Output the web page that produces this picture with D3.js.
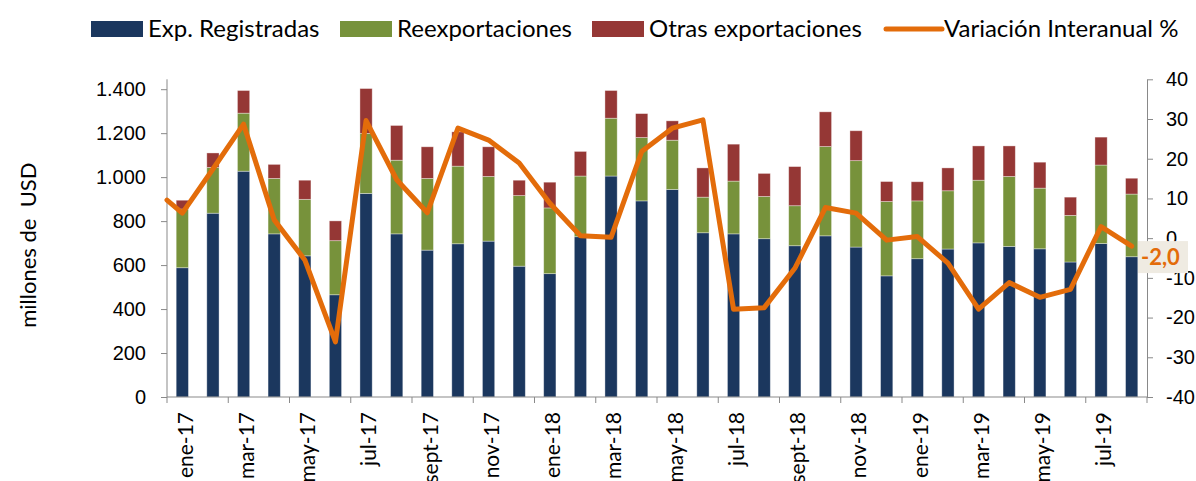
<!DOCTYPE html>
<html>
<head>
<meta charset="utf-8">
<script src="https://cdn.jsdelivr.net/npm/d3@7"></script>
<style>
  body { margin: 0; background: #fff; }
  svg { font-family: Lato, 'Open Sans', sans-serif; }
  .axis path, .axis line { stroke: #898989; }
</style>
</head>
<body>
<div id="chart"></div>
<script>
// categories: ene-17 .. ago-19
const months = [
  'ene-17', 'feb-17', 'mar-17', 'abr-17', 'may-17', 'jun-17', 'jul-17', 'ago-17', 'sept-17', 'oct-17', 'nov-17', 'dic-17',
  'ene-18', 'feb-18', 'mar-18', 'abr-18', 'may-18', 'jun-18', 'jul-18', 'ago-18', 'sept-18', 'oct-18', 'nov-18', 'dic-18',
  'ene-19', 'feb-19', 'mar-19', 'abr-19', 'may-19', 'jun-19', 'jul-19', 'ago-19',
];

// millones de USD
const expRegistradas = [
  588, 836, 1027, 742, 642, 465, 926, 742, 668, 697, 709, 595,
  561, 729, 1005, 892, 944, 747, 742, 720, 688, 733, 682, 551,
  629, 673, 701, 685, 674, 614, 698, 638,
];
const reexportaciones = [
  267, 208, 264, 252, 257, 246, 273, 335, 326, 353, 294, 321,
  299, 276, 263, 288, 224, 162, 240, 192, 182, 406, 393, 338,
  263, 265, 285, 318, 276, 212, 357, 285,
];
const otrasExportaciones = [
  40, 66, 103, 64, 87, 90, 204, 158, 144, 156, 135, 70,
  117, 112, 126, 109, 88, 133, 168, 105, 178, 158, 136, 91,
  87, 104, 156, 139, 118, 83, 127, 72,
];

// variacion interanual %, right axis
const variacionStart = 9.6; // value where the line enters at the left edge
const variacion = [
  6.3, 17.4, 28.7, 4.6, -5.5, -26.1, 29.6, 14.7, 6.4, 27.7, 24.7, 18.9,
  8.8, 0.6, 0.2, 21.8, 27.7, 29.8, -17.9, -17.5, -7.6, 7.7, 6.3, -0.5,
  0.4, -6.3, -17.9, -11.2, -14.9, -12.9, 2.9, -2.0,
];

const leftTicks = [0, 200, 400, 600, 800, 1000, 1200, 1400];
const rightTicks = [-40, -30, -20, -10, 0, 10, 20, 30, 40];

const seriesNames = ['Exp. Registradas', 'Reexportaciones', 'Otras exportaciones'];
const seriesKeys = ['reg', 'reex', 'otras'];
const lineName = 'Variación Interanual %';
const colors = ['#1b375e', '#77923b', '#953735'];
const lineColor = '#e36c0a';

const width = 1196;
const height = 481;
const margin = { top: 79.3, right: 49, bottom: 84, left: 167 };

const locale = d3.formatLocale({ decimal: ',', thousands: '.', grouping: [3], currency: ['', ''], minus: '-' });
const fmtLeft = locale.format(',.0f');
const fmtRight = locale.format('.0f');
const fmtLabel = locale.format('.1f');

const svg = d3
  .select('#chart')
  .append('svg')
  .attr('width', width)
  .attr('height', height);

const x = d3
  .scaleBand()
  .domain(months)
  .range([margin.left, width - margin.right])
  .paddingInner(0.6)
  .paddingOuter(0.3);

const y = d3
  .scaleLinear()
  .domain([0, 1445])
  .range([height - margin.bottom, margin.top]);

const y2 = d3
  .scaleLinear()
  .domain([-40, 40])
  .range([height - margin.bottom, margin.top]);

// stack the bars
const table = months.map((m, i) => ({
  month: m,
  reg: expRegistradas[i],
  reex: reexportaciones[i],
  otras: otrasExportaciones[i],
}));
const stacked = d3.stack().keys(seriesKeys)(table);

svg
  .append('g')
  .selectAll('g')
  .data(stacked)
  .enter()
  .append('g')
  .attr('fill', (d, i) => colors[i])
  .selectAll('rect')
  .data((d) => d)
  .enter()
  .append('rect')
  .attr('x', (d) => x(d.data.month))
  .attr('width', x.bandwidth())
  .attr('y', (d) => y(d[1]))
  .attr('height', (d) => y(d[0]) - y(d[1]))
  .attr('stroke', 'rgba(255,255,255,0.45)')
  .attr('stroke-width', 0.8);

// left axis
const leftAxis = svg
  .append('g')
  .attr('class', 'axis')
  .attr('transform', `translate(${margin.left},0)`)
  .call(d3.axisLeft(y).tickValues(leftTicks).tickFormat(fmtLeft).tickSize(6).tickSizeOuter(0).tickPadding(15));
leftAxis.select('.domain').attr('d', `M0,${y.range()[0]}V${y.range()[1]}`);
leftAxis.selectAll('text').attr('font-size', 20).attr('fill', '#000');

// right axis
const rightAxis = svg
  .append('g')
  .attr('class', 'axis')
  .attr('transform', `translate(${width - margin.right},0)`)
  .call(d3.axisRight(y2).tickValues(rightTicks).tickFormat(fmtRight).tickSize(6).tickSizeOuter(0).tickPadding(13));
rightAxis.selectAll('text').attr('font-size', 20).attr('fill', '#000');

// bottom axis: labels every other month, ticks at every second band boundary
const bottom = svg
  .append('g')
  .attr('class', 'axis')
  .attr('transform', `translate(0,${y.range()[0]})`);
bottom
  .append('line')
  .attr('x1', x.range()[0])
  .attr('x2', x.range()[1])
  .attr('stroke', '#898989');
bottom
  .selectAll('.tick')
  .data(d3.range(0, months.length + 1, 2))
  .enter()
  .append('line')
  .attr('class', 'tick')
  .attr('x1', (i) => x.range()[0] + i * x.step())
  .attr('x2', (i) => x.range()[0] + i * x.step())
  .attr('y1', 0)
  .attr('y2', 6);
bottom
  .selectAll('.xlabel')
  .data(months.filter((d, i) => i % 2 === 0))
  .enter()
  .append('text')
  .attr('class', 'xlabel')
  .attr('transform', (d) => `translate(${x(d) + x.bandwidth() / 2 + 3},15) rotate(-90)`)
  .attr('text-anchor', 'end')
  .attr('dy', '0.35em')
  .attr('font-size', 21)
  .text((d) => d);

// line series
const linePts = [[x.range()[0], y2(variacionStart)]].concat(
  months.map((m, i) => [x(m) + x.bandwidth() / 2, y2(variacion[i])])
);
svg
  .append('path')
  .datum(linePts)
  .attr('fill', 'none')
  .attr('stroke', lineColor)
  .attr('stroke-width', 5)
  .attr('stroke-linejoin', 'round')
  .attr('stroke-linecap', 'round')
  .attr('d', d3.line());

// label for the last value, sits just below the point
const lastI = months.length - 1;
const lab = svg.append('g').attr('transform', `translate(${x.range()[1] - 9},${y2(variacion[lastI]) + 11})`);
lab
  .append('rect')
  .attr('x', 0)
  .attr('y', -16)
  .attr('width', 50)
  .attr('height', 32)
  .attr('fill', '#efebe2');
lab
  .append('text')
  .attr('x', 3)
  .attr('dy', '0.35em')
  .attr('font-size', 22)
  .attr('font-weight', 'bold')
  .attr('fill', lineColor)
  .text(fmtLabel(variacion[lastI]));

// y title
svg
  .append('text')
  .attr('transform', `translate(28,${(y.range()[0] + y.range()[1]) / 2 + 7}) rotate(-90)`)
  .attr('text-anchor', 'middle')
  .attr('dy', '0.35em')
  .attr('font-size', 22)
  .style('white-space', 'pre')
  .text('millones de  USD');

// legend
const legendItems = [
  { name: seriesNames[0], color: colors[0], x: 91, type: 'rect' },
  { name: seriesNames[1], color: colors[1], x: 340, type: 'rect' },
  { name: seriesNames[2], color: colors[2], x: 592, type: 'rect' },
  { name: lineName, color: lineColor, x: 886, type: 'line' },
];
const legend = svg.append('g').attr('transform', 'translate(0,29)');
legendItems.forEach((d) => {
  if (d.type === 'rect') {
    legend.append('rect').attr('x', d.x).attr('y', -8).attr('width', 52).attr('height', 16).attr('fill', d.color);
  } else {
    legend
      .append('line')
      .attr('x1', d.x)
      .attr('x2', d.x + 56)
      .attr('stroke', d.color)
      .attr('stroke-width', 5)
      .attr('stroke-linecap', 'round');
  }
  legend
    .append('text')
    .attr('x', d.x + (d.type === 'rect' ? 57 : 58))
    .attr('dy', '0.35em')
    .attr('font-size', 24)
    .text(d.name);
});
</script>
</body>
</html>
